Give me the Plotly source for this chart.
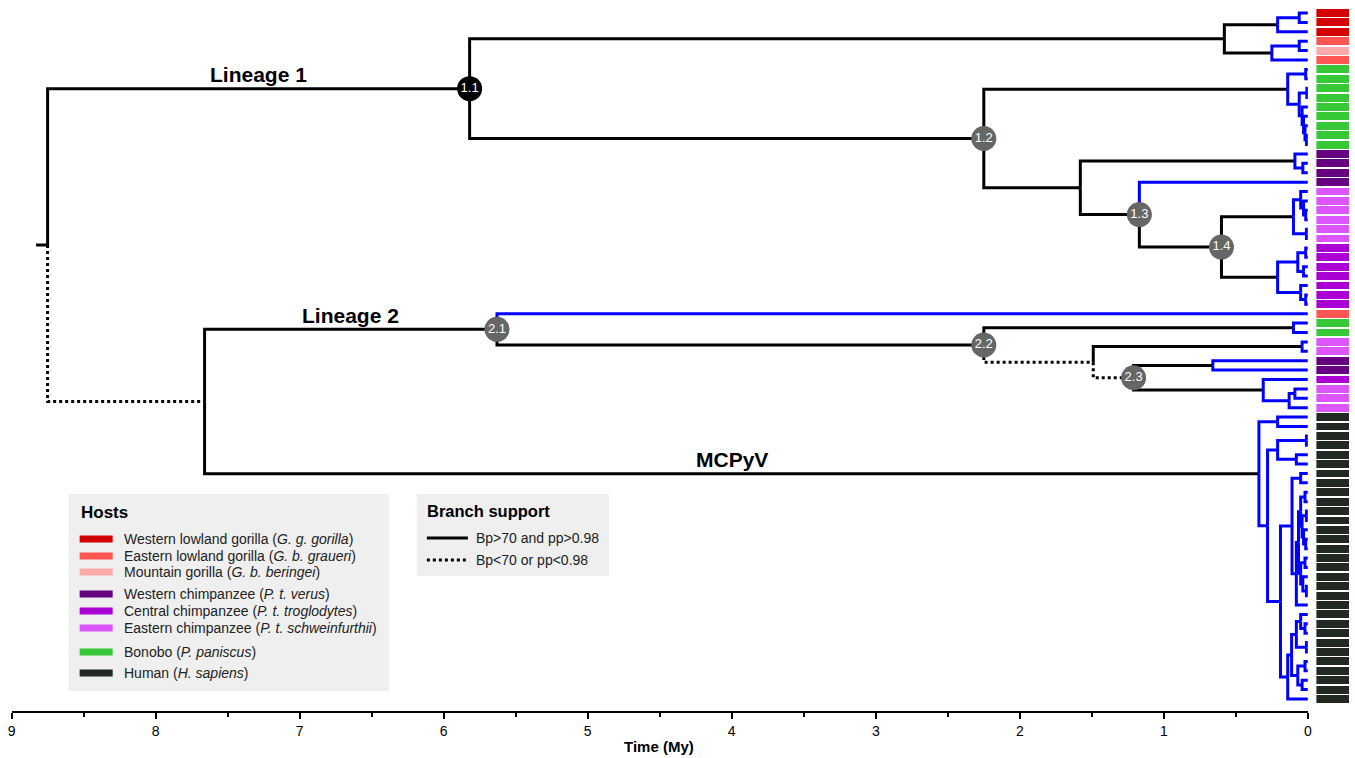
import plotly.graph_objects as go

W, H = 1355, 758

# ---------------- data ----------------
# host of each tip, top to bottom
tip_host = ["WLG", "WLG", "WLG", "ELG", "MG", "ELG",
            "BON", "BON", "BON", "BON", "BON", "BON", "BON", "BON", "BON",
            "WC", "WC", "WC", "WC",
            "EC", "EC", "EC", "EC", "EC", "EC",
            "CC", "CC", "CC", "CC", "CC", "CC", "CC",
            "ELG", "BON", "BON", "EC", "EC", "WC", "WC", "CC", "EC", "EC", "EC",
            "HUM", "HUM", "HUM", "HUM", "HUM", "HUM", "HUM", "HUM", "HUM", "HUM",
            "HUM", "HUM", "HUM", "HUM", "HUM", "HUM", "HUM", "HUM", "HUM", "HUM",
            "HUM", "HUM", "HUM", "HUM", "HUM", "HUM", "HUM", "HUM", "HUM", "HUM",
            "HUM"]

# parent node of each tip (tips are at time 0)
tip_parent = ["G1a", "G1a", "G1", "G2a", "G2a", "G2",
              "BONa", "BONa", "BONc", "BONc", "BONd", "BONe", "BONf", "BONg", "BONg",
              "WC1", "WC1a", "WC1a", "N13",
              "EC1a", "EC1c", "EC1d", "EC1d", "EC1b", "EC1b",
              "CC1c", "CC1c", "CC1d", "CC1d", "CC1b", "CC1e", "CC1e",
              "N21", "BON2", "BON2", "EC2", "EC2", "WC2", "WC2", "M40", "EC3a", "EC3a", "EC3",
              "MA", "MA", "MB1a", "MB1a", "MB1b", "MB1b", "MB2c", "MB2c",
              "C1c", "C1c", "C1e", "C1e", "C1f", "C1g", "C1g", "C1h", "C1h", "C1i", "C1j", "C1j",
              "C", "F1", "F3", "F3", "F2", "F2", "GG1", "GG1", "GG2", "GG2", "MB2b"]

# internal nodes: name, parent, age (My), style of branch leading to node, label
node_name = ["R", "L1", "GOR", "G1", "G1a", "G2", "G2a",
             "N12", "BON", "BONa", "BONb", "BONc", "BONd", "BONe", "BONf", "BONg",
             "N158", "WC1", "WC1a", "N13", "N14",
             "EC1", "EC1a", "EC1c", "EC1d", "EC1b",
             "CC1", "CC1a", "CC1c", "CC1d", "CC1b", "CC1e",
             "LM", "N21", "N22", "BON2", "X", "EC2", "N23", "WC2", "M40", "EC3", "EC3a",
             "MC", "MA", "MB", "MB1", "MB1a", "MB1b", "MB2", "MB2a", "MB2c",
             "C", "C1", "C1a", "C1c", "C1d", "C1e", "C1f", "C1g", "C1b", "C1h", "C1i", "C1j",
             "MB2b", "E", "F", "F1", "F3", "F2", "GG", "GG1", "GG2"]
node_parent = [None, "R", "L1", "GOR", "G1", "GOR", "G2",
               "L1", "N12", "BON", "BON", "BONb", "BONb", "BONd", "BONe", "BONf",
               "N12", "N158", "WC1", "N158", "N13",
               "N14", "EC1", "EC1a", "EC1c", "EC1",
               "N14", "CC1", "CC1a", "CC1a", "CC1", "CC1b",
               "R", "LM", "N21", "N22", "N22", "X", "X", "N23", "N23", "M40", "EC3",
               "LM", "MC", "MC", "MB", "MB1", "MB1", "MB", "MB2", "MB2a",
               "MB2a", "C", "C1", "C1a", "C1a", "C1d", "C1d", "C1f", "C1", "C1b", "C1b", "C1i",
               "MB2", "MB2b", "E", "F", "F1", "F", "E", "GG", "GG"]
node_age = [8.75, 5.82, 0.58, 0.21, 0.06, 0.25, 0.06,
            2.25, 0.14, 0.015, 0.06, 0.007, 0.04, 0.03, 0.02, 0.01,
            1.58, 0.09, 0.035, 1.17, 0.60,
            0.10, 0.05, 0.03, 0.015, 0.01,
            0.21, 0.07, 0.015, 0.03, 0.05, 0.015,
            7.66, 5.63, 2.25, 0.10, 1.49, 0.04, 1.21, 0.66, 0.31, 0.13, 0.09,
            0.34, 0.21, 0.28, 0.21, 0.01, 0.08, 0.19, 0.11, 0.05,
            0.08, 0.065, 0.05, 0.02, 0.04, 0.01, 0.03, 0.015, 0.05, 0.02, 0.035, 0.01,
            0.14, 0.113, 0.08, 0.05, 0.02, 0.01, 0.07, 0.02, 0.04]
node_edge = ["", "k", "k", "k", "b", "k", "b",
             "k", "k", "b", "b", "b", "b", "b", "b", "b",
             "k", "k", "b", "k", "k",
             "k", "b", "b", "b", "b",
             "k", "b", "b", "b", "b", "b",
             "d", "k", "k", "k", "d", "k", "d", "k", "k", "b", "b",
             "k", "b", "b", "b", "b", "b", "b", "b", "b",
             "b", "b", "b", "b", "b", "b", "b", "b", "b", "b", "b", "b",
             "b", "b", "b", "b", "b", "b", "b", "b", "b"]
node_label = {"L1": "1.1", "N12": "1.2", "N13": "1.3", "N14": "1.4",
              "N21": "2.1", "N22": "2.2", "N23": "2.3"}
clade_label = {"L1": "Lineage 1", "N21": "Lineage 2", "MC": "MCPyV"}
root_stem_age = 8.83

host_order = ["WLG", "ELG", "MG", "WC", "CC", "EC", "BON", "HUM"]
host_text = ["Western lowland gorilla (<i>G. g. gorilla</i>)",
             "Eastern lowland gorilla (<i>G. b. graueri</i>)",
             "Mountain gorilla (<i>G. b. beringei</i>)",
             "Western chimpanzee (<i>P. t. verus</i>)",
             "Central chimpanzee (<i>P. t. troglodytes</i>)",
             "Eastern chimpanzee (<i>P. t. schweinfurthii</i>)",
             "Bonobo (<i>P. paniscus</i>)",
             "Human (<i>H. sapiens</i>)"]
host_color = ["#d40000", "#ff5555", "#ffaaaa", "#660080", "#aa00d4", "#dd55ff", "#37c837", "#222922"]

support_text = ["Bp>70 and pp>0.98", "Bp<70 or pp<0.98"]
tick_vals = [0, 1, 2, 3, 4, 5, 6, 7, 8, 9]
minor_tick_vals = [0.5, 1.5, 2.5, 3.5, 4.5, 5.5, 6.5, 7.5, 8.5]

# ---------------- tree layout ----------------
FONT = "Arial, Liberation Sans, sans-serif"
NARROW = "Liberation Sans Narrow, Arial Narrow, Liberation Sans, Arial, sans-serif"
n_tips = len(tip_host)
tip_y = list(range(1, n_tips + 1))
age = dict(zip(node_name, node_age))
par = dict(zip(node_name, node_parent))
edge = dict(zip(node_name, node_edge))
children = {n: [] for n in node_name}
for i, p in enumerate(tip_parent):
    children[p].append(("tip", i))
for n, p in zip(node_name, node_parent):
    if p is not None:
        children[p].append(("node", n))

ypos = {}


def node_y(n):
    if n in ypos:
        return ypos[n]
    ys = []
    for kind, c in children[n]:
        ys.append(tip_y[c] if kind == "tip" else node_y(c))
    ypos[n] = (min(ys) + max(ys)) / 2
    return ypos[n]


for n in node_name:
    node_y(n)

segs = {"k": ([], []), "b": ([], []), "d": ([], [])}


def elbow(style, px_, py_, cx, cy):
    xs, ys = segs[style]
    xs.extend([px_, px_, cx, None])
    ys.extend([py_, cy, cy, None])


root = node_name[0]
segs["k"][0].extend([root_stem_age, age[root], None])
segs["k"][1].extend([ypos[root], ypos[root], None])
for n in node_name[1:]:
    p = par[n]
    elbow(edge[n], age[p], ypos[p], age[n], ypos[n])
for i, p in enumerate(tip_parent):
    elbow("b", age[p], ypos[p], 0, tip_y[i])

fig = go.Figure()
style_map = {"k": ("black", "solid"), "d": ("black", "dot"), "b": ("#0000ff", "solid")}
for s in ["d", "k", "b"]:
    col, dash = style_map[s]
    fig.add_trace(go.Scatter(x=segs[s][0], y=segs[s][1], mode="lines",
                             line=dict(color=col, width=3, dash=dash),
                             hoverinfo="skip", showlegend=False))

# node circles
lab_nodes = list(node_label.keys())
fig.add_trace(go.Scatter(
    x=[age[n] for n in lab_nodes], y=[ypos[n] for n in lab_nodes],
    mode="markers+text", text=[node_label[n] for n in lab_nodes],
    textposition="middle center",
    textfont=dict(color="white", size=13, family=FONT),
    marker=dict(size=25, color=["black" if n == "L1" else "#666666" for n in lab_nodes],
                line=dict(width=0)),
    hoverinfo="skip", showlegend=False))

# host colour strip
col_of = dict(zip(host_order, host_color))
fig.add_trace(go.Bar(x=[1] * n_tips, y=tip_y, base=0, orientation="h", width=0.84,
                     marker=dict(color=[col_of[h] for h in tip_host], line=dict(width=0)),
                     xaxis="x2", yaxis="y", hoverinfo="skip", showlegend=False))

# clade labels
anns = []
for n, t in clade_label.items():
    p = par[n]
    anns.append(dict(x=(age[p] + age[n]) / 2, y=ypos[n], xref="x", yref="y",
                     text=f"<b>{t}</b>", showarrow=False, yanchor="middle", yshift=14,
                     font=dict(size=21, family=FONT, color="black")))


# horizontal pixel -> paper (slight compensation for the capture's horizontal scaling)
def pxx(x):
    return (677.5 + (x - 677.5) / 0.9935) / W


def pyy(y):
    return 1 - y / H


shapes = []
# Hosts legend
shapes.append(dict(type="rect", xref="paper", yref="paper", x0=pxx(69), x1=pxx(389),
                   y0=pyy(691), y1=pyy(494), fillcolor="#efefef", line=dict(width=0), layer="below"))
anns.append(dict(x=pxx(79), y=pyy(512), xref="paper", yref="paper", text="<b>Hosts</b>",
                 showarrow=False, xanchor="left", yanchor="middle",
                 font=dict(size=17, family=FONT, color="black")))
item_y = [539, 556, 572, 594, 611, 628, 652, 673]
for yy, txt, col in zip(item_y, host_text, host_color):
    shapes.append(dict(type="rect", xref="paper", yref="paper", x0=pxx(80), x1=pxx(113),
                       y0=pyy(yy + 3.5), y1=pyy(yy - 3.5), fillcolor=col, line=dict(width=0)))
    anns.append(dict(x=pxx(122), y=pyy(yy), xref="paper", yref="paper", text=txt,
                     showarrow=False, xanchor="left", yanchor="middle",
                     font=dict(size=14, family=FONT, color="#222222")))

# Branch support legend
shapes.append(dict(type="rect", xref="paper", yref="paper", x0=pxx(417), x1=pxx(609),
                   y0=pyy(576), y1=pyy(494), fillcolor="#efefef", line=dict(width=0), layer="below"))
anns.append(dict(x=pxx(425), y=pyy(511), xref="paper", yref="paper", text="<b>Branch support</b>",
                 showarrow=False, xanchor="left", yanchor="middle",
                 font=dict(size=16.5, family=FONT, color="black")))
for yy, txt, dash in zip([538, 560], support_text, ["solid", "dot"]):
    shapes.append(dict(type="line", xref="paper", yref="paper", x0=pxx(427), x1=pxx(468),
                       y0=pyy(yy), y1=pyy(yy), line=dict(color="black", width=3, dash=dash)))
    anns.append(dict(x=pxx(474), y=pyy(yy), xref="paper", yref="paper", text=txt,
                     showarrow=False, xanchor="left", yanchor="middle",
                     font=dict(size=14, family=FONT, color="#222222")))

# axis title
anns.append(dict(x=pxx(659.5), y=pyy(746), xref="paper", yref="paper", text="<b>Time (My)</b>",
                 showarrow=False, xanchor="center", yanchor="middle",
                 font=dict(size=15, family=NARROW, color="black")))

# y range so that tip 1 sits at 13 px and the last tip at 699 px
top_px, bot_px, axis_px = 13, 699, 711
span = (n_tips - 1) * axis_px / (bot_px - top_px)
y_top = 1 - top_px * span / axis_px
y_bot = y_top + span

fig.update_layout(
    width=W, height=H, margin=dict(l=0, r=0, t=0, b=0), autosize=False,
    paper_bgcolor="white", plot_bgcolor="white",
    shapes=shapes, annotations=anns, bargap=0,
    xaxis=dict(domain=[pxx(12), pxx(1307.5)], range=[9, 0], anchor="y",
               showline=True, linecolor="black", linewidth=2,
               ticks="outside", ticklen=6, tickwidth=2, tickcolor="black",
               tickmode="array", tickvals=tick_vals, ticktext=[str(v) for v in tick_vals],
               minor=dict(tickmode="array", tickvals=minor_tick_vals, ticks="outside",
                          ticklen=4, tickwidth=2, tickcolor="black", showgrid=False),
               tickfont=dict(size=14, family=NARROW, color="black"),
               showgrid=False, zeroline=False),
    xaxis2=dict(domain=[pxx(1316), pxx(1349)], range=[0, 1], anchor="y",
                visible=False, showgrid=False, zeroline=False),
    yaxis=dict(domain=[1 - axis_px / H, 1], range=[y_bot, y_top], anchor="x",
               visible=False, showgrid=False, zeroline=False),
)

fig.write_html("out.html", config={"responsive": False, "displayModeBar": False},
               post_script="document.body.style.margin='0px';document.body.style.overflow='hidden';")
